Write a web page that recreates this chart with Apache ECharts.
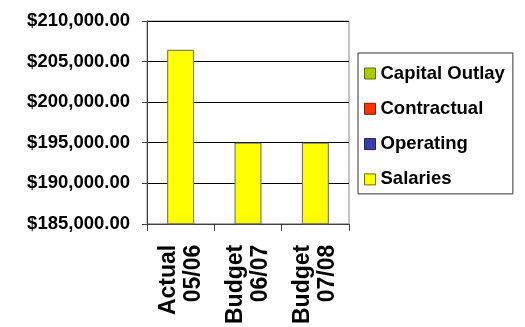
<!DOCTYPE html>
<html>
<head>
<meta charset="utf-8">
<script src="https://cdn.jsdelivr.net/npm/echarts@6/dist/echarts.min.js"></script>
<style>
  html, body { margin: 0; padding: 0; background: #fff; }
  #chart { width: 525px; height: 327px; }
</style>
</head>
<body>
<div id="chart"></div>
<script>
// Budget categories along the x axis
const categories = ['Actual\n05/06', 'Budget\n06/07', 'Budget\n07/08'];

// Expenditure by type (stacked)
const capitalOutlay = [null, null, null];
const contractual = [null, null, null];
const operating = [null, null, null];
const salaries = [206450, 195000, 195000];

// Value axis range
const yMin = 185000;
const yMax = 210000;
const yStep = 5000;

function money(v) {
  const s = Math.round(v).toString().replace(/\B(?=(\d{3})+(?!\d))/g, ',');
  return '$' + s + '.00';
}

const FONT = '"Liberation Sans", Arial, sans-serif';

const chart = echarts.init(document.getElementById('chart'), null, { renderer: 'canvas' });

function barSeries(name, data, color, border) {
  return {
    name: name,
    type: 'bar',
    stack: 'total',
    data: data,
    barWidth: '40%',
    itemStyle: { color: color, borderColor: border, borderWidth: 1 },
    emphasis: { disabled: true }
  };
}

chart.setOption({
  animation: false,
  backgroundColor: '#ffffff',
  grid: {
    left: 147, right: 176, top: 21, bottom: 101.5,
    show: true, borderColor: '#8c8c8c', borderWidth: 1
  },
  legend: {
    orient: 'vertical',
    left: 358, top: 53,
    padding: [11, 8, 5, 6],
    itemGap: 16.3,
    itemWidth: 11, itemHeight: 11,
    icon: 'rect',
    borderColor: '#333', borderWidth: 1,
    textStyle: { fontFamily: FONT, fontWeight: 'bold', fontSize: 18.5, color: '#000' },
    data: [
      { name: 'Capital Outlay', itemStyle: { borderColor: '#5a7000', borderWidth: 1 } },
      { name: 'Contractual', itemStyle: { borderColor: '#801a00', borderWidth: 1 } },
      { name: 'Operating', itemStyle: { borderColor: '#202060', borderWidth: 1 } },
      { name: 'Salaries', itemStyle: { borderColor: '#707000', borderWidth: 1 } }
    ]
  },
  xAxis: {
    type: 'category',
    data: categories,
    axisLine: { lineStyle: { color: '#404040', width: 1 } },
    axisTick: { show: true, length: 7, alignWithLabel: false, lineStyle: { color: '#404040' } },
    axisLabel: {
      rotate: 90,
      margin: 21,
      interval: 0,
      fontFamily: FONT, fontWeight: 'bold', fontSize: 23, color: '#000',
      lineHeight: 25
    }
  },
  yAxis: {
    type: 'value',
    min: yMin, max: yMax, interval: yStep,
    axisLine: { show: true, lineStyle: { color: '#404040', width: 1 } },
    axisTick: { show: true, length: 5, lineStyle: { color: '#404040' } },
    splitLine: { lineStyle: { color: '#000', width: 1 } },
    axisLabel: {
      margin: 17,
      formatter: money,
      fontFamily: FONT, fontWeight: 'bold', fontSize: 18.5, color: '#000'
    }
  },
  series: [
    barSeries('Capital Outlay', capitalOutlay, '#a8cc00', '#5a7000'),
    barSeries('Contractual', contractual, '#ff3300', '#801a00'),
    barSeries('Operating', operating, '#3c3ca8', '#202060'),
    barSeries('Salaries', salaries, '#ffff00', '#666666')
  ]
});
</script>
</body>
</html>
